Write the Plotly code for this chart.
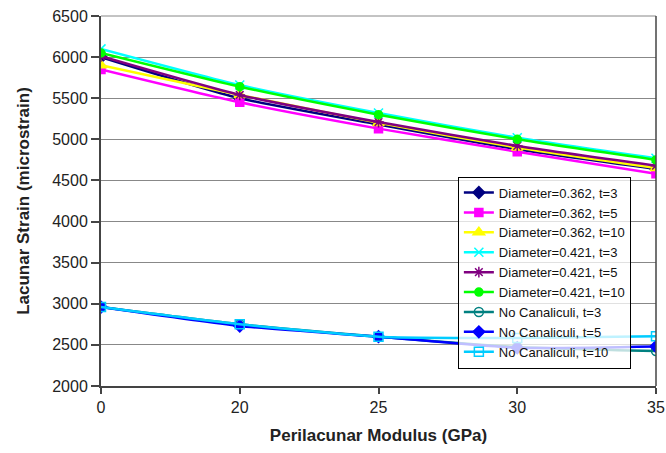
import plotly.graph_objects as go

x_labels = ["0", "20", "25", "30", "35"]

d362_t3 = [6000, 5500, 5180, 4880, 4640]
d362_t5 = [5850, 5450, 5130, 4850, 4580]
d362_t10 = [5900, 5540, 5200, 4900, 4650]
d421_t3 = [6100, 5660, 5320, 5020, 4770]
d421_t5 = [6010, 5540, 5210, 4920, 4680]
d421_t10 = [6050, 5640, 5300, 5000, 4750]
nc_t3 = [2960, 2750, 2600, 2475, 2425]
nc_t5 = [2960, 2730, 2600, 2465, 2480]
nc_t10 = [2960, 2750, 2600, 2585, 2605]

series = [
    ("Diameter=0.362, t=3", d362_t3, "#000080", "diamond", 9),
    ("Diameter=0.362, t=5", d362_t5, "#FF00FF", "square", 8),
    ("Diameter=0.362, t=10", d362_t10, "#FFFF00", "triangle-up", 10),
    ("Diameter=0.421, t=3", d421_t3, "#00FFFF", "x-thin", 9),
    ("Diameter=0.421, t=5", d421_t5, "#800080", "asterisk", 9),
    ("Diameter=0.421, t=10", d421_t10, "#00FF00", "circle", 8),
    ("No Canaliculi, t=3", nc_t3, "#008080", "circle-open", 9),
    ("No Canaliculi, t=5", nc_t5, "#0000FF", "diamond", 9),
    ("No Canaliculi, t=10", nc_t10, "#00CCFF", "square-open", 9),
]

fig = go.Figure()
for name, vals, color, sym, size in series:
    fig.add_trace(go.Scatter(
        x=x_labels, y=vals, name=name, mode="lines+markers",
        line=dict(color=color, width=2.5, shape="spline", smoothing=0.6),
        marker=dict(symbol=sym, size=size, color=color,
                    line=dict(color=color, width=1.5)),
    ))

fig.update_layout(
    width=666, height=453,
    margin=dict(l=101, r=10, t=16, b=67, autoexpand=False),
    paper_bgcolor="white", plot_bgcolor="white",
    font=dict(family="Liberation Sans, Arial, sans-serif", size=16, color="#222"),
    showlegend=True,
    legend=dict(x=0.643, y=0.566, xanchor="left", yanchor="top",
                bgcolor="rgba(255,255,255,0.75)", bordercolor="black", borderwidth=1,
                font=dict(size=13, color="#111"), tracegroupgap=0,
                itemwidth=30),
)
fig.update_xaxes(
    type="category", range=[0, 4], automargin=False,
    showline=True, linecolor="#444", linewidth=2, mirror=False,
    ticks="outside", ticklen=6, tickcolor="#444", tickwidth=1.5,
    showgrid=False,
    title=dict(text="<b>Perilacunar Modulus (GPa)</b>", font=dict(size=17), standoff=14),
    tickfont=dict(size=16),
)
fig.update_yaxes(
    range=[2000, 6500], dtick=500, automargin=False,
    showline=True, linecolor="#444", linewidth=2,
    ticks="outside", ticklen=8, tickcolor="#444", tickwidth=1.5,
    showgrid=True, gridcolor="#888", gridwidth=1,
    title=dict(text="<b>Lacunar Strain (microstrain)</b>", font=dict(size=17), standoff=18),
    tickfont=dict(size=16),
)
fig.add_shape(type="line", xref="paper", yref="paper", x0=0, x1=1, y0=1, y1=1,
              line=dict(color="#888", width=1))
fig.add_shape(type="line", xref="paper", yref="paper", x0=1, x1=1, y0=0, y1=1,
              line=dict(color="#444", width=1.5))

fig.write_html("out.html", config={"displayModeBar": False},
               post_script="document.body.style.margin='0px';")
